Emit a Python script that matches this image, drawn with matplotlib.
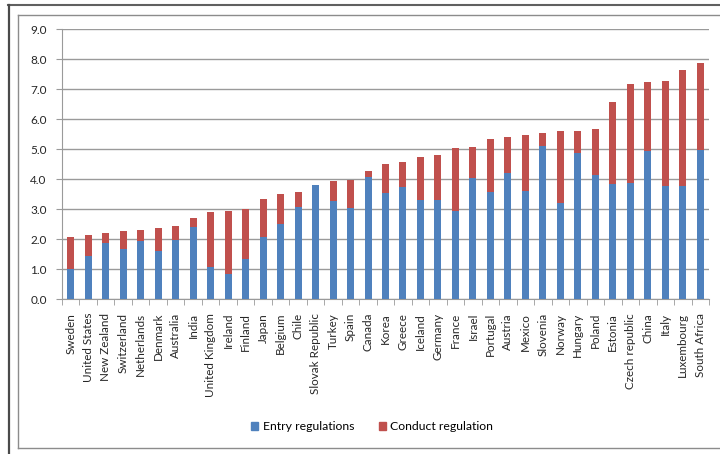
import matplotlib
matplotlib.use("Agg")
import matplotlib.pyplot as plt
from matplotlib.patches import Patch
from matplotlib.lines import Line2D
import numpy as np

plt.rcParams['font.family'] = ['Lato', 'DejaVu Sans']

countries = ["Sweden", "United States", "New Zealand", "Switzerland", "Netherlands",
             "Denmark", "Australia", "India", "United Kingdom", "Ireland", "Finland",
             "Japan", "Belgium", "Chile", "Slovak Republic", "Turkey", "Spain", "Canada",
             "Korea", "Greece", "Iceland", "Germany", "France", "Israel", "Portugal",
             "Austria", "Mexico", "Slovenia", "Norway", "Hungary", "Poland", "Estonia",
             "Czech republic", "China", "Italy", "Luxembourg", "South Africa"]

entry = [0.99, 1.43, 1.87, 1.67, 1.93, 1.60, 1.98, 2.40, 1.06, 0.82, 1.33,
         2.07, 2.51, 3.08, 3.79, 3.26, 3.04, 4.06, 3.52, 3.72, 3.29, 3.29, 2.94,
         4.02, 3.56, 4.20, 3.59, 5.11, 3.19, 4.87, 4.13, 3.83, 3.87, 4.93, 3.77,
         3.77, 4.98]
total = [2.07, 2.13, 2.20, 2.27, 2.30, 2.37, 2.43, 2.71, 2.91, 2.94, 3.00,
         3.32, 3.49, 3.56, 3.80, 3.92, 3.96, 4.27, 4.50, 4.57, 4.73, 4.80, 5.04,
         5.08, 5.34, 5.39, 5.48, 5.52, 5.61, 5.61, 5.66, 6.56, 7.17, 7.23, 7.28,
         7.62, 7.86]
conduct = [round(t - e, 2) for t, e in zip(total, entry)]

yticks = [0.0, 1.0, 2.0, 3.0, 4.0, 5.0, 6.0, 7.0, 8.0, 9.0]

BLUE = "#4F81BD"
RED = "#C0504D"
GRID = "#9A9A9A"
TXT = "#262626"

fig = plt.figure(figsize=(7.2, 4.54), dpi=100)

W, H = 720.0, 454.0
def fx(px):
    return px / W
def fy(py):
    return 1 - py / H

# Outer dark frame (top + left)
fig.add_artist(Line2D([fx(8), 0.999], [fy(5), fy(5)],
                      transform=fig.transFigure, color="#606060", linewidth=1.5))
fig.add_artist(Line2D([fx(8.5), fx(8.5)], [0.0, fy(5)],
                      transform=fig.transFigure, color="#4A4A4A", linewidth=1.6))
# Inner gray frame (left, top, bottom)
fig.add_artist(Line2D([fx(18), 0.999], [fy(14.5), fy(14.5)],
                      transform=fig.transFigure, color="#8C8C8C", linewidth=1.0))
fig.add_artist(Line2D([fx(18), fx(18)], [fy(448), fy(14.5)],
                      transform=fig.transFigure, color="#8C8C8C", linewidth=1.0))
fig.add_artist(Line2D([fx(18), 0.999], [fy(448), fy(448)],
                      transform=fig.transFigure, color="#8C8C8C", linewidth=1.0))

ax = fig.add_axes([62/720, (454-299)/454, (709-62)/720, (299-29)/454])
x = np.arange(len(countries))
w = 0.4
ax.bar(x, entry, width=w, color=BLUE, label="Entry regulations", zorder=3)
ax.bar(x, conduct, width=w, bottom=entry, color=RED, label="Conduct regulation", zorder=3)

ax.set_xlim(-0.5, len(countries) - 0.5)
ax.set_ylim(0, 9)
ax.set_yticks(yticks)
ax.set_yticklabels([f"{v:.1f}" for v in yticks], fontsize=8.5, color=TXT)
ax.yaxis.grid(True, color=GRID, linewidth=1.0, zorder=0)
ax.set_axisbelow(True)

ax.set_xticks(x)
ax.set_xticklabels(countries, rotation=90, fontsize=8.4, color=TXT)
ax.set_xticks(np.arange(-0.5, len(countries), 1.0), minor=True)
ax.tick_params(axis='x', which='major', length=0, pad=10)
ax.tick_params(axis='x', which='minor', length=4, color=GRID, direction='out')
ax.tick_params(axis='y', length=4, color=GRID, direction='out', pad=7)

for s in ["top", "right"]:
    ax.spines[s].set_visible(False)
ax.spines["left"].set_color(GRID)
ax.spines["bottom"].set_color(GRID)

handles = [Patch(color=BLUE, label="Entry regulations"),
           Patch(color=RED, label="Conduct regulation")]
fig.legend(handles=handles, loc="center", bbox_to_anchor=(372/720, (454-427)/454),
           ncol=2, frameon=False, fontsize=8.8, handlelength=0.6, handleheight=0.6,
           handletextpad=0.35, columnspacing=2.0)

fig.savefig("out.png", dpi=100)
